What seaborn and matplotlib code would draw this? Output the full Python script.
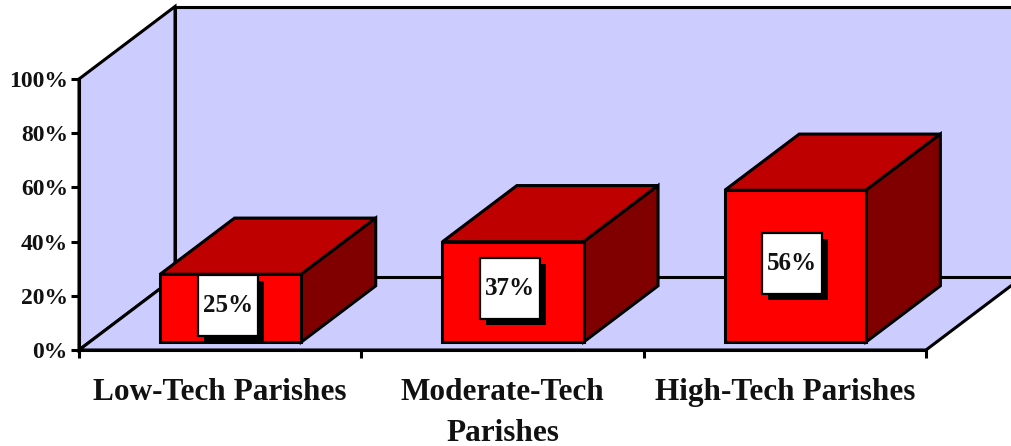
import matplotlib
matplotlib.use("Agg")
import matplotlib.pyplot as plt
from matplotlib.patches import Polygon, Rectangle
import pandas as pd
import seaborn as sns

categories = ["Low-Tech Parishes", "Moderate-Tech\nParishes", "High-Tech Parishes"]
values = [25, 37, 56]
y_ticks = [0, 20, 40, 60, 80, 100]
y_tick_labels = ["0%", "20%", "40%", "60%", "80%", "100%"]

W, H = 1011, 446
L, R, T, B = 79, 926, 79, 350
LW = 2.2
WALL = "#CCCCFF"
FRONT = "#FF0000"
TOP = "#BF0000"
SIDE = "#800000"

sns.set_theme(style="white")
plt.rcParams["font.family"] = ["Liberation Serif", "DejaVu Serif"]
plt.rcParams["font.weight"] = "bold"

fig = plt.figure(figsize=(W / 100, H / 100), dpi=100, facecolor="white")
ax = fig.add_axes([L / W, 1 - B / H, (R - L) / W, (B - T) / H])
ax.patch.set_alpha(0)

df = pd.DataFrame({"category": categories, "value": values})
sns.barplot(data=df, x="category", y="value", color=FRONT, saturation=1,
            width=0.5, edgecolor="black", linewidth=LW, ax=ax, zorder=5)

ax.set_xlim(-0.5, 2.5)
ax.set_ylim(0, 100)
ax.set_xlabel("")
ax.set_ylabel("")

px_x = 3 / (R - L)
px_y = 100 / (B - T)
DX, DY = 96 * px_x, 72.5 * px_y
D0, D1 = 0.11, 0.885


def proj(x, y, d):
    return (x + d * DX, y + d * DY)


def poly(points, face, z):
    ax.add_patch(Polygon(points, closed=True, facecolor=face, edgecolor="black",
                         linewidth=LW, joinstyle="miter", clip_on=False, zorder=z))


x0, x1 = ax.get_xlim()
poly([proj(x0, 100, 1), proj(x1, 100, 1), proj(x1, 0, 1), proj(x0, 0, 1)], WALL, 1)
poly([proj(x0, 0, 0), proj(x0, 100, 0), proj(x0, 100, 1), proj(x0, 0, 1)], WALL, 1)
poly([proj(x0, 0, 0), proj(x0, 0, 1), proj(x1, 0, 1), proj(x1, 0, 0)], WALL, 2)

for bar, value in zip(ax.patches, values):
    left = bar.get_x()
    right = left + bar.get_width()
    bar.set_x(left + D0 * DX)
    bar.set_y(D0 * DY)
    bar.set_clip_on(False)
    bar.set_joinstyle("miter")
    poly([proj(left, value, D0), proj(left, value, D1),
          proj(right, value, D1), proj(right, value, D0)], TOP, 4)
    poly([proj(right, 0, D0), proj(right, value, D0),
          proj(right, value, D1), proj(right, 0, D1)], SIDE, 4)

    cx = (left + right) / 2 + D0 * DX - 3 * px_x
    cy = value / 2 + D0 * DY + 3 * px_y
    bw, bh = 60 * px_x, 61 * px_y
    ax.add_patch(Rectangle((cx - bw / 2 + 6 * px_x, cy - bh / 2 - 6 * px_y), bw, bh,
                           facecolor="black", edgecolor="none", clip_on=False, zorder=6))
    ax.add_patch(Rectangle((cx - bw / 2, cy - bh / 2), bw, bh, facecolor="white",
                           edgecolor="black", linewidth=1.6, clip_on=False, zorder=7))
    ax.text(cx, cy, f"{value}%", ha="center", va="center", fontsize=18,
            fontweight="bold", color="#111111", zorder=8)

for side in ("top", "right"):
    ax.spines[side].set_visible(False)
for side in ("left", "bottom"):
    ax.spines[side].set_linewidth(LW)
    ax.spines[side].set_color("black")
    ax.spines[side].set_zorder(3)

ax.set_yticks(y_ticks)
ax.set_yticklabels(y_tick_labels)
ax.tick_params(axis="y", left=True, length=6, width=LW, color="black", pad=2,
               labelsize=17, labelcolor="#111111")
ax.set_xticks(range(len(categories)))
ax.set_xticklabels(categories, linespacing=1.55, va="top")
ax.set_xticks([-0.5, 0.5, 1.5, 2.5], minor=True)
ax.tick_params(axis="x", which="major", bottom=False, pad=14, labelsize=22.5,
               labelcolor="#111111")
ax.tick_params(axis="x", which="minor", bottom=True, length=6, width=LW, color="black")

fig.savefig("out.png", dpi=100, facecolor="white")
